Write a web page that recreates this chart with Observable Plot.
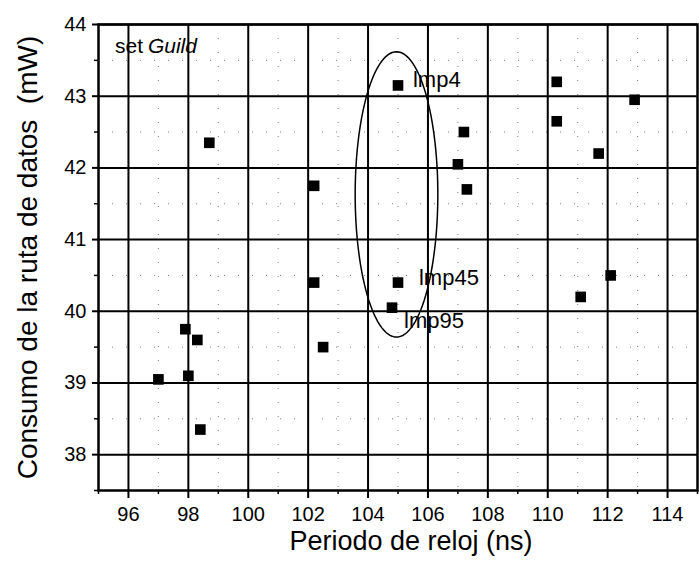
<!DOCTYPE html>
<html>
<head>
<meta charset="utf-8">
<script src="https://cdn.jsdelivr.net/npm/d3@7"></script>
<script src="https://cdn.jsdelivr.net/npm/@observablehq/plot@0.6"></script>
<style>
  html, body { margin: 0; padding: 0; background: #fff; }
  #chart svg { display: block; }
</style>
</head>
<body>
<div id="chart"></div>
<script>
// Data
const periodo = [97.0, 97.9, 98.0, 98.3, 98.4, 98.7, 102.2, 102.2, 102.5, 104.8, 105.0, 105.0, 107.0, 107.2, 107.3, 110.3, 110.3, 111.1, 111.7, 112.1, 112.9];
const consumo = [39.05, 39.75, 39.1, 39.6, 38.35, 42.35, 41.75, 40.4, 39.5, 40.05, 43.15, 40.4, 42.05, 42.5, 41.7, 43.2, 42.65, 40.2, 42.2, 40.5, 42.95];

const xTicks = [96, 98, 100, 102, 104, 106, 108, 110, 112, 114];
const xMinor = [95, 97, 99, 101, 103, 105, 107, 109, 111, 113, 115];
const yTicks = [38, 39, 40, 41, 42, 43, 44];
const yMinor = [37.5, 38.5, 39.5, 40.5, 41.5, 42.5, 43.5];

const labelText = ["lmp4", "lmp45", "lmp95"];
const labelX = [105.5, 105.7, 105.2];
const labelY = [43.22, 40.47, 39.86];

// ellipse annotation (center & radii, in data units)
const ellipseCenter = [104.95, 41.63];
const ellipseRadii = [1.38, 1.99];

const points = periodo.map((x, i) => ({x, y: consumo[i]}));
const labels = labelText.map((t, i) => ({t, x: labelX[i], y: labelY[i]}));
const ellipse = d3.range(0, 121).map(k => {
  const a = (k / 120) * 2 * Math.PI;
  return {x: ellipseCenter[0] + ellipseRadii[0] * Math.cos(a), y: ellipseCenter[1] + ellipseRadii[1] * Math.sin(a)};
});

const font = "'Liberation Sans', Arial, Helvetica, sans-serif";

const chart = Plot.plot({
  width: 699,
  height: 570,
  marginLeft: 98,
  marginRight: 2,
  marginTop: 24,
  marginBottom: 80,
  style: {fontFamily: font, fontSize: "19px", color: "black", background: "white"},
  x: {domain: [95, 115]},
  y: {domain: [37.5, 44]},
  marks: [
    Plot.gridX(xMinor, {stroke: "#444", strokeOpacity: 0.7, strokeDasharray: "1,13", strokeWidth: 1}),
    Plot.gridY(yMinor, {stroke: "#444", strokeOpacity: 0.7, strokeDasharray: "1,13", strokeWidth: 1}),
    Plot.gridX(xTicks, {stroke: "black", strokeOpacity: 1, strokeWidth: 2}),
    Plot.gridY(yTicks, {stroke: "black", strokeOpacity: 1, strokeWidth: 2}),
    Plot.axisX(xTicks, {tickSize: 8, tickPadding: 8, label: null, strokeWidth: 2, fontSize: 20, tickFormat: d => String(d)}),
    Plot.axisX(xMinor, {tickSize: 4, tickFormat: () => "", label: null, strokeWidth: 1.5}),
    Plot.axisY(yTicks, {tickSize: 6, tickPadding: 6, label: null, strokeWidth: 2, fontSize: 20, tickFormat: d => String(d)}),
    Plot.axisY(yMinor, {tickSize: 4, tickFormat: () => "", label: null, strokeWidth: 1.5}),
    Plot.frame({stroke: "black", strokeWidth: 2.5}),
    Plot.line(ellipse, {x: "x", y: "y", stroke: "black", strokeWidth: 1.5}),
    Plot.dot(points, {x: "x", y: "y", symbol: "square", r: 6, fill: "black", stroke: "none"}),
    Plot.text(labels, {x: "x", y: "y", text: "t", textAnchor: "start", fontSize: 22, fill: "black"}),
    Plot.text(["set"], {x: 95.55, y: 43.7, textAnchor: "start", fontSize: 21, fill: "black"}),
    Plot.text(["Guild"], {x: 96.65, y: 43.7, textAnchor: "start", fontSize: 21, fontStyle: "italic", fill: "black"}),
    Plot.text(["Periodo de reloj (ns)"], {frameAnchor: "bottom", dx: 13, dy: 59, fontSize: 27, fill: "black"}),
    Plot.text(["Consumo de la ruta de datos  (mW)"], {frameAnchor: "left", textAnchor: "middle", dx: -70, dy: 0, rotate: -90, fontSize: 28, fill: "black"})
  ]
});
document.getElementById("chart").appendChild(chart);
</script>
</body>
</html>
